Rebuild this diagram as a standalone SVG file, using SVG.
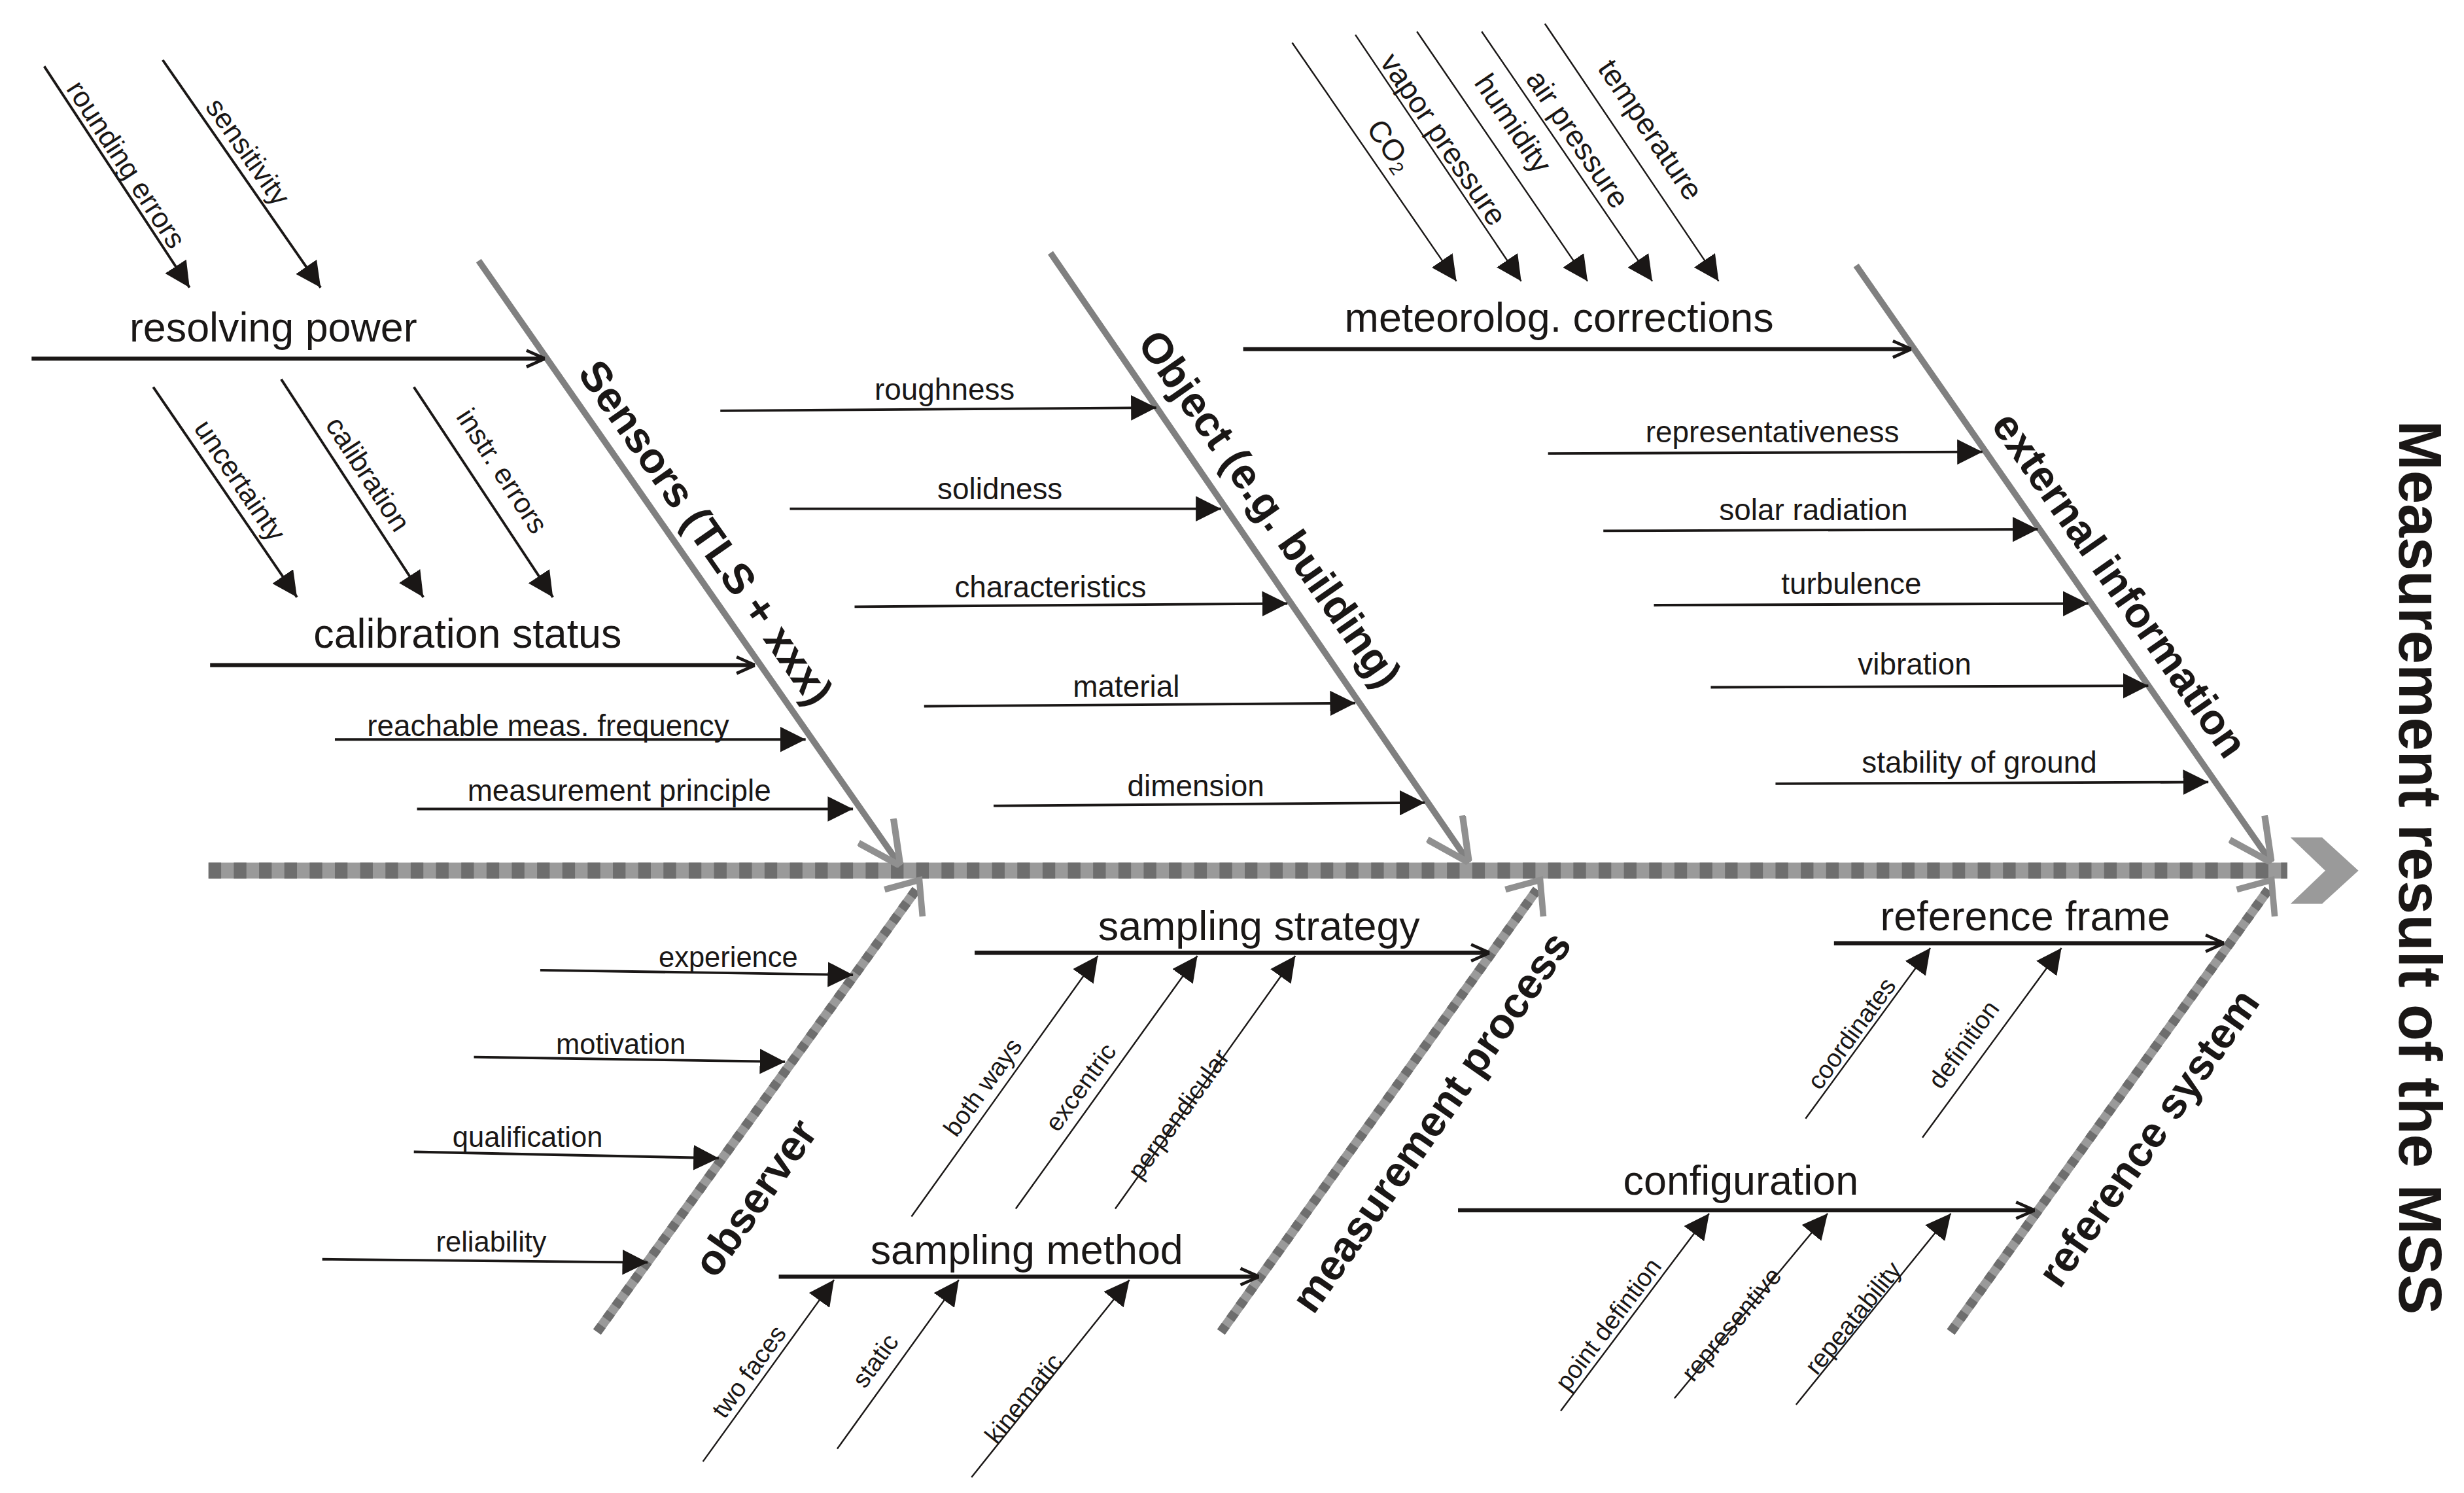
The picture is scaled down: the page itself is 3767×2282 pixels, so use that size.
<svg xmlns="http://www.w3.org/2000/svg" width="3767" height="2282" viewBox="0 0 3767 2282">
<defs>
<style>
text{font-family:"Liberation Sans",Arial,sans-serif;fill:#1a1716}
.s{font-size:18px}.m{font-size:19px}.L{font-size:26px}.d{font-size:16px}
.b{font-size:27px;font-weight:bold}
.t{font-size:38px;font-weight:bold}
.a{stroke:#1a1716;stroke-width:1.6;fill:none;marker-end:url(#fa)}
.ad{stroke:#1a1716;stroke-width:1;fill:none;marker-end:url(#fa)}
.o{stroke:#1a1716;stroke-width:2.6;fill:none;marker-end:url(#oa)}
.bone{stroke:#808080;stroke-width:4;fill:none;marker-end:url(#ga)}
.db1{stroke:#9a9a9a;stroke-width:6;fill:none}
.db2{stroke:#6e6e6e;stroke-width:6;fill:none;stroke-dasharray:5 5}
</style>
<marker id="fa" viewBox="0 0 10 10" refX="10" refY="5" markerWidth="16" markerHeight="16" markerUnits="userSpaceOnUse" orient="auto"><path d="M0,0 L10,5 L0,10 z" fill="#1a1716"/></marker>
<marker id="oa" viewBox="0 0 10 10" refX="10" refY="5" markerWidth="13" markerHeight="13" markerUnits="userSpaceOnUse" orient="auto"><path d="M1,1 L10,5 L1,9" fill="none" stroke="#1a1716" stroke-width="1.5"/></marker>
<marker id="ga" viewBox="0 0 10 10" refX="10" refY="5" markerWidth="30" markerHeight="30" markerUnits="userSpaceOnUse" orient="auto"><path d="M1,0.5 L10,5 L1,9.5" fill="none" stroke="#909090" stroke-width="1.4"/></marker>
</defs>
<rect width="3767" height="2282" fill="#fff"/>
<g transform="scale(2.415)">
<g id="spine">
<line x1="132" y1="551" x2="1448" y2="551" stroke="#9a9a9a" stroke-width="10"/>
<line x1="132" y1="551" x2="1448" y2="551" stroke="#6e6e6e" stroke-width="10" stroke-dasharray="8 8"/>
<polygon points="1450,530 1470,530 1493,551 1470,572 1450,572 1472,551" fill="#9a9a9a"/>
</g>
<g id="connectors">
<line class="bone" x1="303" y1="165" x2="570" y2="548"/>
<line class="bone" x1="665" y1="160" x2="930" y2="546"/>
<line class="bone" x1="1175" y1="168" x2="1438" y2="546"/>
<line class="db1" x1="378" y1="843" x2="580" y2="563"/><line class="db2" x1="378" y1="843" x2="580" y2="563"/>
<line class="db1" x1="773" y1="843" x2="973" y2="563"/><line class="db2" x1="773" y1="843" x2="973" y2="563"/>
<line class="db1" x1="1235" y1="843" x2="1436" y2="563"/><line class="db2" x1="1235" y1="843" x2="1436" y2="563"/>
<path d="M560,563 L582,557 L584,580 M953,563 L975,557 L977,580 M1416,563 L1438,557 L1440,580" fill="none" stroke="#909090" stroke-width="4"/>
<line class="o" x1="20" y1="227" x2="345" y2="227"/>
<line class="a" x1="28" y1="42" x2="120" y2="182"/>
<line class="a" x1="103" y1="38" x2="203" y2="182"/>
<line class="a" x1="97" y1="245" x2="188" y2="378"/>
<line class="a" x1="178" y1="240" x2="268" y2="378"/>
<line class="a" x1="262" y1="245" x2="350" y2="378"/>
<line class="o" x1="133" y1="421" x2="478" y2="421"/>
<line class="a" x1="212" y1="468" x2="510" y2="468"/>
<line class="a" x1="264" y1="512" x2="540" y2="512"/>
<line class="a" x1="456" y1="260" x2="732" y2="258"/>
<line class="a" x1="500" y1="322" x2="773" y2="322"/>
<line class="a" x1="541" y1="384" x2="815" y2="382"/>
<line class="a" x1="585" y1="447" x2="858" y2="445"/>
<line class="a" x1="629" y1="510" x2="902" y2="508"/>
<line class="o" x1="787" y1="221" x2="1210" y2="221"/>
<line class="ad" x1="818" y1="27" x2="922" y2="178"/>
<line class="ad" x1="858" y1="22" x2="963" y2="178"/>
<line class="ad" x1="897" y1="20" x2="1005" y2="178"/>
<line class="ad" x1="938" y1="20" x2="1046" y2="178"/>
<line class="ad" x1="978" y1="15" x2="1088" y2="178"/>
<line class="a" x1="980" y1="287" x2="1255" y2="286"/>
<line class="a" x1="1015" y1="336" x2="1290" y2="335"/>
<line class="a" x1="1047" y1="383" x2="1322" y2="382"/>
<line class="a" x1="1083" y1="435" x2="1360" y2="434"/>
<line class="a" x1="1124" y1="496" x2="1398" y2="495"/>
<line class="a" x1="342" y1="614" x2="540" y2="617"/>
<line class="a" x1="300" y1="669" x2="497" y2="672"/>
<line class="a" x1="262" y1="729" x2="455" y2="733"/>
<line class="a" x1="204" y1="797" x2="410" y2="799"/>
<line class="o" x1="617" y1="603" x2="943" y2="603"/>
<line class="ad" x1="577" y1="770" x2="695" y2="605"/>
<line class="ad" x1="643" y1="765" x2="758" y2="605"/>
<line class="ad" x1="706" y1="765" x2="820" y2="605"/>
<line class="o" x1="493" y1="808" x2="797" y2="808"/>
<line class="ad" x1="445" y1="925" x2="528" y2="810"/>
<line class="ad" x1="530" y1="917" x2="607" y2="810"/>
<line class="ad" x1="615" y1="935" x2="715" y2="810"/>
<line class="o" x1="1161" y1="597" x2="1408" y2="597"/>
<line class="ad" x1="1143" y1="708" x2="1222" y2="600"/>
<line class="ad" x1="1217" y1="720" x2="1305" y2="600"/>
<line class="o" x1="923" y1="766" x2="1288" y2="766"/>
<line class="ad" x1="988" y1="893" x2="1082" y2="768"/>
<line class="ad" x1="1060" y1="885" x2="1157" y2="768"/>
<line class="ad" x1="1137" y1="889" x2="1235" y2="768"/>
</g>
<g id="sensors">
<text class="b" text-anchor="middle" dominant-baseline="central" transform="translate(447,337) rotate(55)">Sensors (TLS + xxx)</text>
<text class="L" x="173" y="216" text-anchor="middle">resolving power</text>
<text class="s" text-anchor="middle" dominant-baseline="central" transform="translate(80,104) rotate(57)">rounding errors</text>
<text class="s" text-anchor="middle" dominant-baseline="central" transform="translate(157,96) rotate(55)">sensitivity</text>
<text class="s" text-anchor="middle" dominant-baseline="central" transform="translate(152,304) rotate(56)">uncertainty</text>
<text class="s" text-anchor="middle" dominant-baseline="central" transform="translate(233,300) rotate(57)">calibration</text>
<text class="s" text-anchor="middle" dominant-baseline="central" transform="translate(318,298) rotate(57)">instr. errors</text>
<text class="L" x="296" y="410" text-anchor="middle">calibration status</text>
<text class="m" x="347" y="466" text-anchor="middle">reachable meas. frequency</text>
<text class="m" x="392" y="507" text-anchor="middle">measurement principle</text>
</g>
<g id="object">
<text class="b" text-anchor="middle" dominant-baseline="central" transform="translate(804,322) rotate(55)">Object (e.g. building)</text>
<text class="m" x="598" y="253" text-anchor="middle">roughness</text>
<text class="m" x="633" y="316" text-anchor="middle">solidness</text>
<text class="m" x="665" y="378" text-anchor="middle">characteristics</text>
<text class="m" x="713" y="441" text-anchor="middle">material</text>
<text class="m" x="757" y="504" text-anchor="middle">dimension</text>
</g>
<g id="external">
<text class="b" text-anchor="middle" dominant-baseline="central" transform="translate(1342,370) rotate(55)">external information</text>
<text class="L" x="987" y="210" text-anchor="middle">meteorolog. corrections</text>
<text class="m" text-anchor="middle" dominant-baseline="central" transform="translate(880,92) rotate(55)">CO<tspan font-size="12" dy="5">2</tspan></text>
<text class="m" text-anchor="middle" dominant-baseline="central" transform="translate(914,88) rotate(56)">vapor pressure</text>
<text class="m" text-anchor="middle" dominant-baseline="central" transform="translate(958,78) rotate(56)">humidity</text>
<text class="m" text-anchor="middle" dominant-baseline="central" transform="translate(999,88) rotate(56)">air pressure</text>
<text class="m" text-anchor="middle" dominant-baseline="central" transform="translate(1045,82) rotate(56)">temperature</text>
<text class="m" x="1122" y="280" text-anchor="middle">representativeness</text>
<text class="m" x="1148" y="329" text-anchor="middle">solar radiation</text>
<text class="m" x="1172" y="376" text-anchor="middle">turbulence</text>
<text class="m" x="1212" y="427" text-anchor="middle">vibration</text>
<text class="m" x="1253" y="489" text-anchor="middle">stability of ground</text>
</g>
<g id="observer">
<text class="b" text-anchor="middle" dominant-baseline="central" transform="translate(478,758) rotate(-55)">observer</text>
<text class="s" x="461" y="612" text-anchor="middle">experience</text>
<text class="s" x="393" y="667" text-anchor="middle">motivation</text>
<text class="s" x="334" y="726" text-anchor="middle">qualification</text>
<text class="s" x="311" y="792" text-anchor="middle">reliability</text>
</g>
<g id="measurement-process">
<text class="b" text-anchor="middle" dominant-baseline="central" transform="translate(906,710) rotate(-55)">measurement process</text>
<text class="L" x="797" y="595" text-anchor="middle">sampling strategy</text>
<text class="d" text-anchor="middle" dominant-baseline="central" transform="translate(622,688) rotate(-54)">both ways</text>
<text class="d" text-anchor="middle" dominant-baseline="central" transform="translate(684,688) rotate(-54)">excentric</text>
<text class="d" text-anchor="middle" dominant-baseline="central" transform="translate(746,705) rotate(-54)">perpendicular</text>
<text class="L" x="650" y="800" text-anchor="middle">sampling method</text>
<text class="d" text-anchor="middle" dominant-baseline="central" transform="translate(474,868) rotate(-54)">two faces</text>
<text class="d" text-anchor="middle" dominant-baseline="central" transform="translate(554,861) rotate(-54)">static</text>
<text class="d" text-anchor="middle" dominant-baseline="central" transform="translate(648,885) rotate(-51)">kinematic</text>
</g>
<g id="reference-system">
<text class="b" text-anchor="middle" dominant-baseline="central" transform="translate(1360,720) rotate(-55)">reference system</text>
<text class="L" x="1282" y="589" text-anchor="middle">reference frame</text>
<text class="d" text-anchor="middle" dominant-baseline="central" transform="translate(1172,654) rotate(-54)">coordinates</text>
<text class="d" text-anchor="middle" dominant-baseline="central" transform="translate(1243,661) rotate(-54)">definition</text>
<text class="L" x="1102" y="756" text-anchor="middle">configuration</text>
<text class="d" text-anchor="middle" dominant-baseline="central" transform="translate(1018,838) rotate(-53)">point defintion</text>
<text class="d" text-anchor="middle" dominant-baseline="central" transform="translate(1096,838) rotate(-50)">representive</text>
<text class="d" text-anchor="middle" dominant-baseline="central" transform="translate(1173,834) rotate(-51)">repeatability</text>
</g>
<g id="result">
<text class="t" text-anchor="middle" dominant-baseline="central" transform="translate(1532,549) rotate(90)">Measurement result of the MSS</text>
</g>
</g>
</svg>
